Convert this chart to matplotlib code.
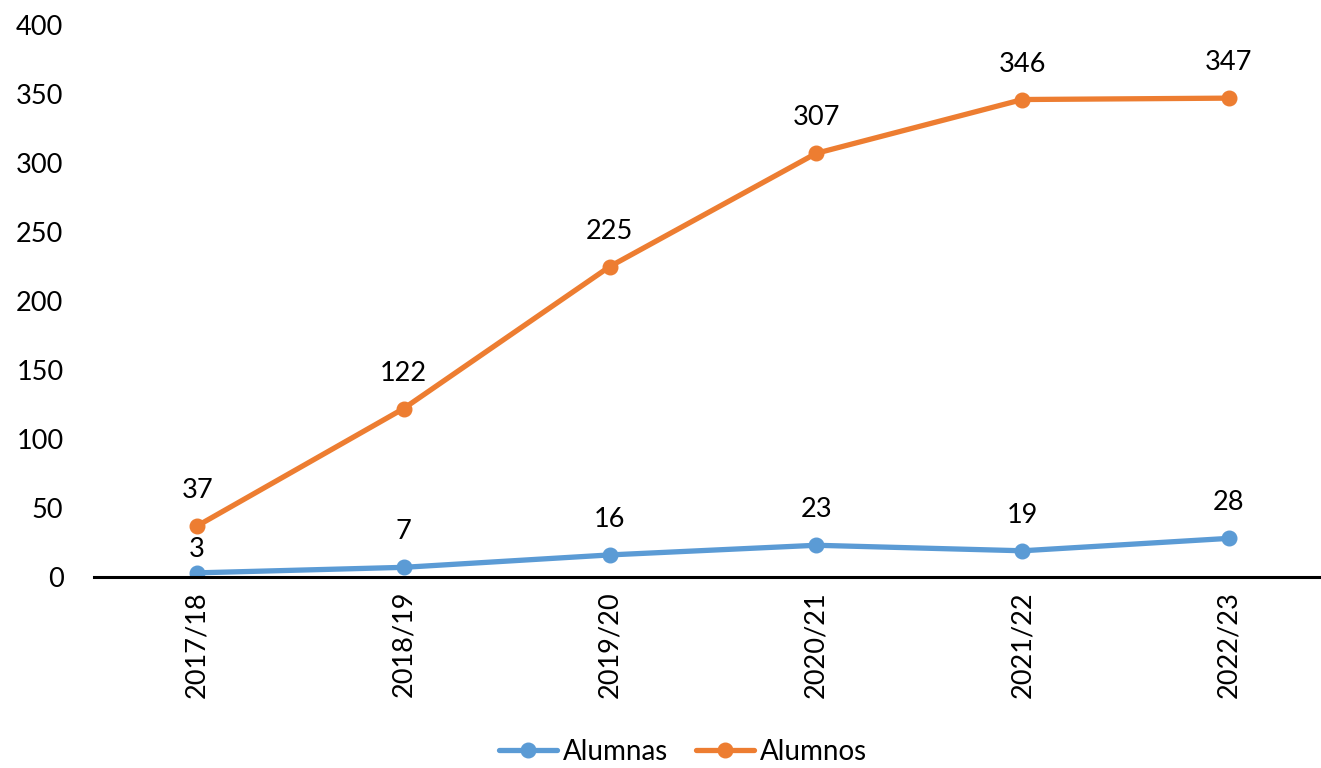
import matplotlib
matplotlib.use("Agg")
import matplotlib.pyplot as plt

categories = ["2017/18", "2018/19", "2019/20", "2020/21", "2021/22", "2022/23"]
alumnas = [3, 7, 16, 23, 19, 28]
alumnos = [37, 122, 225, 307, 346, 347]
yticks = [0, 50, 100, 150, 200, 250, 300, 350, 400]

plt.rcParams['font.family'] = ['Lato', 'DejaVu Sans']
BLUE = "#5B9BD5"
ORANGE = "#ED7D31"

fig = plt.figure(figsize=(13.21, 7.68), dpi=100)
ax = fig.add_axes([94/1321, 1-577/768, (1332-94)/1321, (577-25)/768])

x = list(range(len(categories)))
ax.plot(x, alumnas, color=BLUE, lw=3.8, marker='o', ms=10.5, label="Alumnas", solid_capstyle='round')
ax.plot(x, alumnos, color=ORANGE, lw=3.8, marker='o', ms=10.5, label="Alumnos", solid_capstyle='round')

for xi, v in zip(x, alumnos):
    ax.annotate(str(v), (xi, v), xytext=(0, 25.5), textcoords='offset points',
                ha='center', va='center', fontsize=19.5)
for i, (xi, v) in enumerate(zip(x, alumnas)):
    off = 17 if i == 0 else 25.5
    ax.annotate(str(v), (xi, v), xytext=(0, off), textcoords='offset points',
                ha='center', va='center', fontsize=19.5)

ax.set_xlim(-0.5, len(categories) - 0.5)
ax.set_ylim(0, 400)
ax.set_yticks(yticks)
ax.set_xticks(x)
ax.set_xticklabels(categories, rotation=90, fontsize=19.5)
ax.tick_params(axis='y', length=0, labelsize=19.5, pad=22)
ax.tick_params(axis='x', length=0, pad=10)
for s in ['top', 'right', 'left']:
    ax.spines[s].set_visible(False)
ax.spines['bottom'].set_linewidth(2.2)
ax.spines['bottom'].set_color('black')

leg = fig.legend(loc='center', bbox_to_anchor=(683/1321, 1-752/768), ncol=2, frameon=False,
                 fontsize=20, handlelength=2.1, columnspacing=1.0, handletextpad=0.2,
                 borderaxespad=0)
fig.savefig("out.png", dpi=100)
